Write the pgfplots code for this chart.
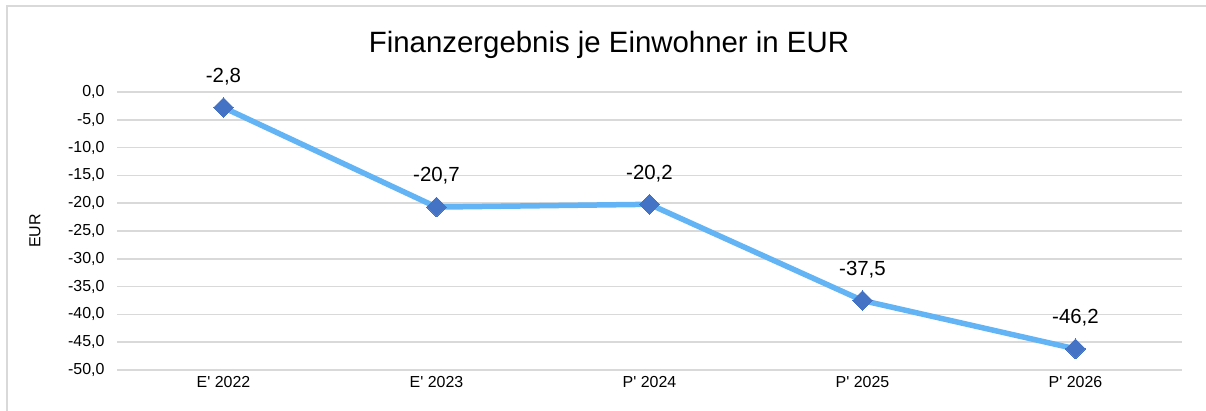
\documentclass[border=0pt]{standalone}
\usepackage{pgfplots}
\pgfplotsset{compat=1.18}
\usepackage{fontspec}
\setmainfont{Liberation Sans}
\definecolor{linec}{RGB}{99,180,245}
\definecolor{markc}{RGB}{68,114,196}
\definecolor{gridc}{RGB}{217,217,217}
\begin{document}
\begin{tikzpicture}[x=1bp,y=1bp]
\path[use as bounding box] (0,0) rectangle (1206,410);
\draw[gridc,line width=2bp] (7,-2) -- (7,404) -- (1208,404);
\node[font=\fontsize{29.5}{33}\selectfont] at (609,365) {Finanzergebnis je Einwohner in EUR};
\begin{axis}[
  at={(117bp,40bp)}, anchor=south west,
  scale only axis, width=1065bp, height=278bp,
  xmin=-0.5, xmax=4.5, ymin=-50, ymax=0,
  xtick={0,1,2,3,4},
  xticklabels={E\textquotesingle{} 2022,E\textquotesingle{} 2023,P\textquotesingle{} 2024,P\textquotesingle{} 2025,P\textquotesingle{} 2026},
  ytick={0,-5,-10,-15,-20,-25,-30,-35,-40,-45,-50},
  yticklabel={\pgfmathprintnumber[fixed,fixed zerofill,precision=1,use comma]{\tick}},
  /pgf/number format/assume math mode=true,
  ymajorgrids, grid style={gridc,line width=1.5bp},
  axis line style={draw=none},
  major tick length=0pt,
  tick label style={font=\fontsize{16}{18}\selectfont},
  yticklabel style={xshift=-9bp},
  xticklabel style={yshift=-3bp},
  ylabel={EUR}, ylabel style={font=\fontsize{16}{18}\selectfont, at={(rel axis cs:-0.077,0.5)}, anchor=center},
  clip=false,
  nodes near coords,
  point meta=explicit symbolic,
  nodes near coords style={font=\fontsize{20.5}{24}\selectfont, text=black, anchor=center, yshift=31bp},
]
\addplot[linec, line width=5.5bp, mark=square*, mark size=7bp, mark options={markc, draw=markc, line width=0bp, fill=markc, rotate=45}]
 coordinates {(0,-2.8)[-2,8] (1,-20.7)[-20,7] (2,-20.2)[-20,2] (3,-37.5)[-37,5] (4,-46.2)[-46,2]};
\end{axis}
\end{tikzpicture}
\end{document}
